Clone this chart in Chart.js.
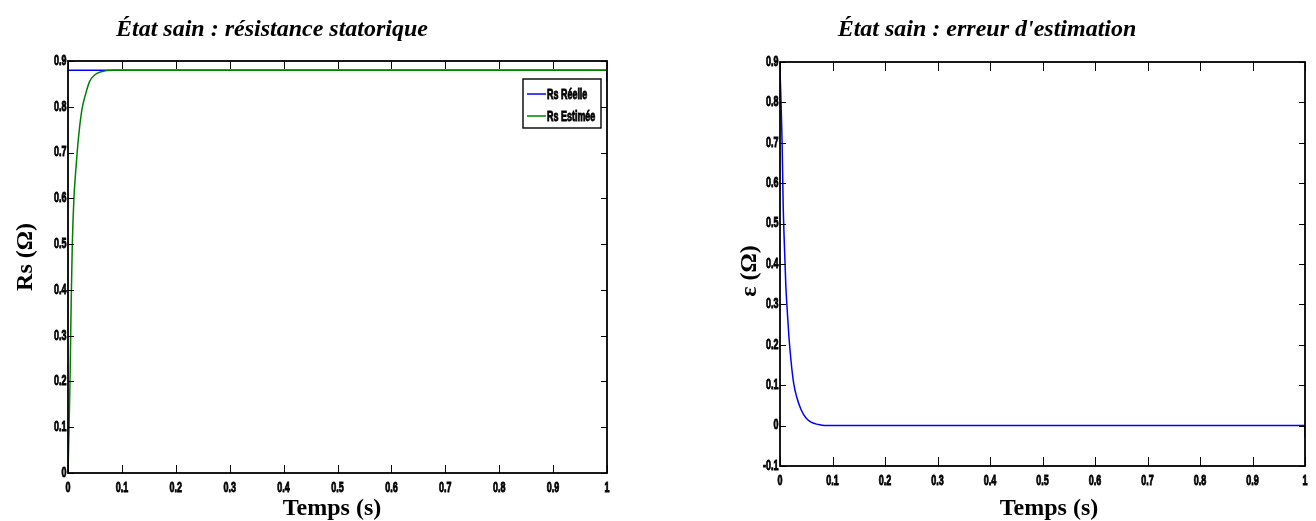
<!DOCTYPE html>
<html><head><meta charset="utf-8">
<script src="https://cdn.jsdelivr.net/npm/chart.js@4.4.1/dist/chart.umd.min.js"></script>
<style>
html,body{margin:0;padding:0;background:#fff;width:1316px;height:521px;overflow:hidden;}
.box{position:absolute;top:0;height:521px;}
#b1{left:0;width:650px;}
#b2{left:690px;width:626px;}
</style></head><body>
<div class="box" id="b1"><canvas id="c1"></canvas></div>
<div class="box" id="b2"><canvas id="c2"></canvas></div>
<script>
// ---- data ----
const timeS   = [0, 0.002, 0.004, 0.006, 0.008, 0.011, 0.014, 0.017, 0.021, 0.026, 0.032, 0.04, 0.05, 0.06, 0.072, 0.085, 0.1, 0.2, 0.3, 0.4, 0.5, 0.6, 0.7, 0.8, 0.9, 1];
const rsEst   = [0, 0.10, 0.22, 0.38, 0.50, 0.60, 0.655, 0.70, 0.75, 0.795, 0.825, 0.855, 0.870, 0.876, 0.879, 0.88, 0.88, 0.88, 0.88, 0.88, 0.88, 0.88, 0.88, 0.88, 0.88, 0.88];
const rsRealTime = [0, 1, 1];
const rsReal     = [0.88, 0.88, 0.855];
const errTime = [0, 0.002, 0.004, 0.006, 0.008, 0.011, 0.014, 0.017, 0.021, 0.026, 0.032, 0.04, 0.05, 0.06, 0.072, 0.085, 0.1, 0.2, 0.3, 0.4, 0.5, 0.6, 0.7, 0.8, 0.9, 1, 1];
const errEst  = [0.88, 0.80, 0.70, 0.55, 0.46, 0.35, 0.28, 0.22, 0.16, 0.105, 0.07, 0.04, 0.018, 0.008, 0.003, 0, 0, 0, 0, 0, 0, 0, 0, 0, 0, 0, -0.028];
const xTicks      = [0, 0.1, 0.2, 0.3, 0.4, 0.5, 0.6, 0.7, 0.8, 0.9, 1];
const yTicksLeft  = [0, 0.1, 0.2, 0.3, 0.4, 0.5, 0.6, 0.7, 0.8, 0.9];
const yTicksRight = [-0.1, 0, 0.1, 0.2, 0.3, 0.4, 0.5, 0.6, 0.7, 0.8, 0.9];
const titleLeft  = "État sain : résistance statorique";
const titleRight = "État sain : erreur d'estimation";
const xLabel = "Temps (s)";
const yLabelLeft = "Rs (Ω)";
const yLabelRight = "ε (Ω)";
const seriesNames = ["Rs Réelle", "Rs Estimée"];

const sansFam = "'Liberation Sans','DejaVu Sans',sans-serif";
const serifFam = "'Liberation Serif','DejaVu Serif',serif";
const NARROW = 0.64;

function narrowText(ctx, text, x, y, align) {
  ctx.save();
  ctx.translate(x, y);
  ctx.scale(NARROW, 1);
  ctx.textAlign = align;
  ctx.lineWidth = 0.9;
  ctx.strokeStyle = '#000';
  ctx.strokeText(text, 0, 0);
  ctx.fillText(text, 0, 0);
  ctx.restore();
}

const fmt = v => String(Math.round(v * 10) / 10);

const matlabBox = {
  id: 'matlabBox',
  afterDatasetsDraw(chart, args, opts) {
    const {ctx, chartArea: a, scales: {x, y}} = chart;
    ctx.save();
    ctx.strokeStyle = '#000';
    ctx.lineWidth = 1;
    ctx.beginPath();
    x.ticks.forEach(t => {
      const px = Math.round(x.getPixelForValue(t.value)) + 0.5;
      ctx.moveTo(px, a.bottom); ctx.lineTo(px, a.bottom - opts.xLen);
      ctx.moveTo(px, a.top); ctx.lineTo(px, a.top + opts.xLen);
    });
    y.ticks.forEach(t => {
      const py = Math.round(y.getPixelForValue(t.value)) + 0.5;
      ctx.moveTo(a.left, py); ctx.lineTo(a.left + opts.yLen, py);
      ctx.moveTo(a.right, py); ctx.lineTo(a.right - opts.yLen, py);
    });
    ctx.stroke();
    ctx.lineWidth = 1.8;
    ctx.strokeRect(a.left, a.top, a.right - a.left, a.bottom - a.top);
    // tick labels (narrow bold, like the reference)
    ctx.fillStyle = '#000';
    ctx.font = 'bold 14px ' + sansFam;
    ctx.textBaseline = 'middle';
    x.ticks.forEach(t => narrowText(ctx, fmt(t.value), x.getPixelForValue(t.value), a.bottom + 15, 'center'));
    y.ticks.forEach(t => narrowText(ctx, fmt(t.value), a.left - 1.5, y.getPixelForValue(t.value), 'right'));
    // title
    ctx.font = 'italic bold 24px ' + serifFam;
    ctx.textAlign = 'center';
    ctx.textBaseline = 'alphabetic';
    ctx.fillText(opts.title, a.left + opts.titleDx, opts.titleY);
    // axis titles
    ctx.font = 'bold 24px ' + serifFam;
    ctx.fillText(xLabel, opts.xTitleX, opts.xTitleY);
    ctx.save();
    ctx.translate(opts.yTitleX, opts.yTitleY);
    ctx.rotate(-Math.PI / 2);
    ctx.textBaseline = 'middle';
    ctx.fillText(opts.yTitle, 0, 0);
    ctx.restore();
    // legend
    if (opts.legend) {
      const w = 78, h = 49;
      const L = a.right - 6 - w, T = a.top + 18;
      ctx.fillStyle = '#fff';
      ctx.fillRect(L, T, w, h);
      ctx.lineWidth = 1.4;
      ctx.strokeStyle = '#000';
      ctx.strokeRect(L, T, w, h);
      ctx.font = 'bold 14px ' + sansFam;
      ctx.textBaseline = 'middle';
      chart.data.datasets.forEach((ds, i) => {
        const cy = T + 15 + i * 22;
        ctx.strokeStyle = ds.borderColor;
        ctx.lineWidth = 1.5;
        ctx.beginPath(); ctx.moveTo(L + 4, cy); ctx.lineTo(L + 23, cy); ctx.stroke();
        ctx.fillStyle = '#000';
        narrowText(ctx, ds.label, L + 24, cy + 1, 'left');
      });
    }
    ctx.restore();
  }
};

function makeChart(id, datasets, yTicks, yMin, cfg) {
  return new Chart(document.getElementById(id), {
    type: 'line',
    data: {datasets},
    options: {
      responsive: true, maintainAspectRatio: false, animation: false,
      devicePixelRatio: 1,
      layout: {padding: cfg.padding},
      elements: {point: {radius: 0}, line: {borderWidth: 1.5, cubicInterpolationMode: 'monotone'}},
      plugins: {
        legend: {display: false}, tooltip: {enabled: false},
        matlabBox: cfg.box
      },
      scales: {
        x: {
          type: 'linear', min: 0, max: 1,
          afterBuildTicks: s => { s.ticks = xTicks.map(v => ({value: v})); },
          afterFit: s => { s.height = cfg.xH; },
          grid: {display: false, drawTicks: false}, border: {display: false},
          ticks: {display: false, autoSkip: false}
        },
        y: {
          type: 'linear', min: yMin, max: 0.9,
          afterBuildTicks: s => { s.ticks = yTicks.map(v => ({value: v})); },
          afterFit: s => { s.width = cfg.yW; },
          grid: {display: false, drawTicks: false}, border: {display: false},
          ticks: {display: false, autoSkip: false}
        }
      }
    },
    plugins: [matlabBox]
  });
}

makeChart('c1', [
  {label: seriesNames[0], data: rsRealTime.map((t, i) => ({x: t, y: rsReal[i]})), borderColor: '#0000ff', cubicInterpolationMode: 'default', tension: 0, order: 2},
  {label: seriesNames[1], data: timeS.map((t, i) => ({x: t, y: rsEst[i]})), borderColor: '#008000', order: 1}
], yTicksLeft, 0, {
  padding: {left: 0, top: 61, right: 43, bottom: 0}, xH: 48, yW: 68,
  box: {xLen: 8, yLen: 6, title: titleLeft, titleDx: 204, titleY: 36, legend: true,
        xTitleX: 332, xTitleY: 515, yTitle: yLabelLeft, yTitleX: 26, yTitleY: 257}
});

makeChart('c2', [
  {label: 'ε', data: errTime.map((t, i) => ({x: t, y: errEst[i]})), borderColor: '#0000ff'}
], yTicksRight, -0.1, {
  padding: {left: 0, top: 62, right: 11, bottom: 0}, xH: 55, yW: 90,
  box: {xLen: 9, yLen: 6, title: titleRight, titleDx: 207, titleY: 36, legend: false,
        xTitleX: 359, xTitleY: 515, yTitle: yLabelRight, yTitleX: 60, yTitleY: 271}
});
</script>
</body></html>
